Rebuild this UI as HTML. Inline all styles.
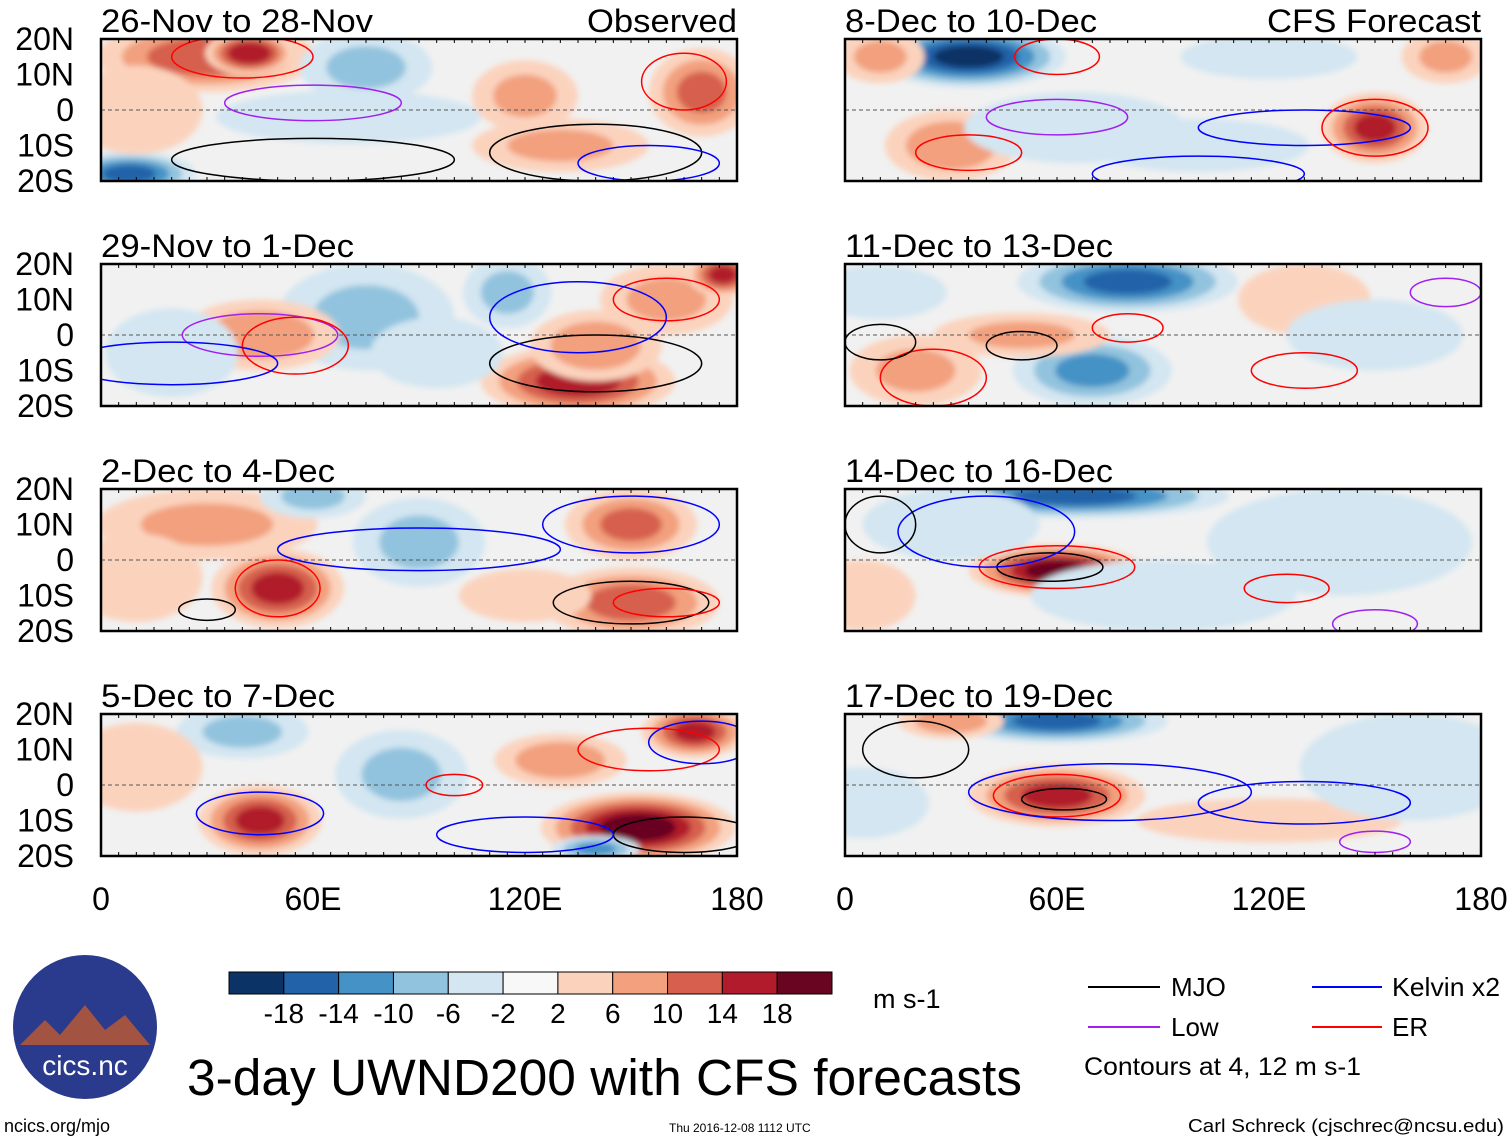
<!DOCTYPE html>
<html><head><meta charset="utf-8"><style>
body{margin:0;background:#fff;width:1510px;height:1142px;overflow:hidden;font-family:"Liberation Sans",sans-serif}
svg{display:block}
</style></head><body>
<svg id="fig" width="1510" height="1142" xmlns="http://www.w3.org/2000/svg">
<defs><filter id="bl" x="-20%" y="-20%" width="140%" height="140%"><feGaussianBlur stdDeviation="3"/></filter></defs>
<g id="panels"></g>
<g id="cbar"></g>
<text x="873" y="1008" font-size="27">m s-1</text>
<text x="187" y="1095" font-size="51" textLength="835" lengthAdjust="spacingAndGlyphs">3-day UWND200 with CFS forecasts</text>
<g font-size="26">
<line x1="1088" y1="987" x2="1160" y2="987" stroke="#000" stroke-width="2"/><text x="1171" y="996">MJO</text>
<line x1="1312" y1="987" x2="1382" y2="987" stroke="#00f" stroke-width="2"/><text x="1392" y="996" textLength="108" lengthAdjust="spacingAndGlyphs">Kelvin x2</text>
<line x1="1088" y1="1027" x2="1160" y2="1027" stroke="#a020f0" stroke-width="2"/><text x="1171" y="1036">Low</text>
<line x1="1312" y1="1027" x2="1382" y2="1027" stroke="#f00" stroke-width="2"/><text x="1392" y="1036">ER</text>
<text x="1084" y="1075" font-size="25" textLength="277" lengthAdjust="spacingAndGlyphs">Contours at 4, 12 m s-1</text>
</g>
<g>
<circle cx="85" cy="1027" r="72" fill="#2a3a8c"/>
<path d="M20 1045 L45 1020 L60 1035 L85 1005 L105 1030 L125 1015 L150 1045 Z" fill="#c05a30" opacity="0.8"/>
<text x="85" y="1075" font-size="28" fill="#fff" text-anchor="middle">cics.nc</text>
</g>
<text x="4" y="1132" font-size="18">ncics.org/mjo</text>
<text x="669" y="1132" font-size="12">Thu 2016-12-08 1112 UTC</text>
<text x="1504" y="1132" font-size="18" text-anchor="end" textLength="316" lengthAdjust="spacingAndGlyphs">Carl Schreck (cjschrec@ncsu.edu)</text>
</svg>
<script>
const levels=[-18,-14,-10,-6,-2,2,6,10,14,18];
const colors=["#0b3365","#2262a8","#4592c6","#92c3de","#d3e6f1","#f8f8f8","#fbd3bd","#f2a07e","#d6604d","#b11b2c","#690520"];
const titles=["26-Nov to 28-Nov","29-Nov to 1-Dec","2-Dec to 4-Dec","5-Dec to 7-Dec","8-Dec to 10-Dec","11-Dec to 13-Dec","14-Dec to 16-Dec","17-Dec to 19-Dec"];
const latTicks=["20N","10N","0","10S","20S"];
const lonTicks=["0","60E","120E","180"];
// blobs per panel: [lon, lat, value, radiusLonDeg, radiusLatDeg]
const blobs0=[[30,15,12,25,8],[42,16,17,10,5],[75,12,-6,15,8],[70,-2,-3,30,6],[120,4,6,12,8],[170,5,10,12,10],[130,-10,6,20,6],[8,-18,-14,15,5],[10,0,4,15,10]];
const blobs1=[[75,5,-6,20,12],[45,0,8,18,8],[135,-13,15,22,8],[140,-3,8,15,8],[160,10,6,15,8],[20,-5,-4,15,10],[176,17,14,8,5],[115,12,-6,10,8],[95,-5,-4,15,8]];
const blobs2=[[50,-8,14,15,9],[30,10,6,25,8],[90,5,-6,15,10],[150,10,10,15,8],[150,-12,11,20,8],[60,18,-6,12,5],[10,-5,5,15,10],[120,-10,4,15,6]];
const blobs3=[[45,-10,14,14,8],[40,15,-6,15,6],[85,3,-6,15,10],[168,15,14,12,6],[152,-12,19,22,8],[130,7,8,15,6],[140,-18,-10,10,3],[10,5,4,15,10]];
const blobs4=[[35,15,-18,22,7],[10,15,6,10,6],[30,-10,8,15,8],[150,-5,14,12,8],[65,-5,-4,25,8],[100,-10,-4,25,6],[170,15,6,10,6],[120,15,-4,20,5]];
const blobs5=[[80,15,-14,25,7],[70,-10,-10,18,8],[20,-10,6,15,8],[50,0,6,20,5],[130,10,4,15,8],[150,0,-4,20,8],[10,12,-4,15,6]];
const blobs6=[[60,-3,18,20,6],[65,18,-14,35,5],[90,-10,-4,30,8],[5,-10,4,12,8],[30,10,-4,20,8],[140,5,-2,30,12]];
const blobs7=[[60,-3,14,20,7],[60,18,-14,25,5],[30,18,8,12,4],[5,-5,-4,15,8],[120,-10,4,30,5],[160,5,-2,25,12]];
const allBlobs=[blobs0,blobs1,blobs2,blobs3,blobs4,blobs5,blobs6,blobs7];
// contours per panel: [lon, lat, rLon, rLat, type]  type: m=MJO k=Kelvin l=Low e=ER
const cont0=[[40,15,20,6,"e"],[165,8,12,8,"e"],[60,2,25,5,"l"],[140,-12,30,8,"m"],[60,-14,40,6,"m"],[155,-15,20,5,"k"]];
const cont1=[[45,0,22,6,"l"],[55,-3,15,8,"e"],[160,10,15,6,"e"],[140,-8,30,8,"m"],[135,5,25,10,"k"],[20,-8,30,6,"k"]];
const cont2=[[50,-8,12,8,"e"],[90,3,40,6,"k"],[150,10,25,8,"k"],[150,-12,22,6,"m"],[30,-14,8,3,"m"],[160,-12,15,4,"e"]];
const cont3=[[45,-8,18,6,"k"],[165,-14,20,5,"m"],[155,10,20,6,"e"],[100,0,8,3,"e"],[170,12,15,6,"k"],[120,-14,25,5,"k"]];
const cont4=[[60,-2,20,5,"l"],[130,-5,30,5,"k"],[35,-12,15,5,"e"],[60,15,12,5,"e"],[150,-5,15,8,"e"],[100,-18,30,5,"k"]];
const cont5=[[50,-3,10,4,"m"],[80,2,10,4,"e"],[25,-12,15,8,"e"],[130,-10,15,5,"e"],[170,12,10,4,"l"],[10,-2,10,5,"m"]];
const cont6=[[58,-2,15,4,"m"],[60,-2,22,6,"e"],[40,8,25,10,"k"],[125,-8,12,4,"e"],[10,10,10,8,"m"],[150,-18,12,4,"l"]];
const cont7=[[60,-3,18,6,"e"],[62,-4,12,3,"m"],[75,-2,40,8,"k"],[20,10,15,8,"m"],[150,-16,10,3,"l"],[130,-5,30,6,"k"]];
const allCont=[cont0,cont1,cont2,cont3,cont4,cont5,cont6,cont7];
const ctype={m:"#000",k:"#0000ff",l:"#a020f0",e:"#ff0000"};

const NS="http://www.w3.org/2000/svg";
function mk(t,a,p){const e=document.createElementNS(NS,t);for(const k in a)e.setAttribute(k,a[k]);if(p)p.appendChild(e);return e;}
function colorFor(v){let i=0;while(i<levels.length&&v>=levels[i])i++;return colors[i];}
const root=document.getElementById("panels");
const PW=636,PH=142,cols=[101,845],rows=[39,264,489,714];
const titleW=[272,253,234,234,252,268,268,268];
allBlobs.forEach((bl,pi)=>{
  const x0=cols[pi<4?0:1],y0=rows[pi%4];
  const xs=lon=>x0+lon/180*PW, ys=lat=>y0+(20-lat)/40*PH;
  const g=mk("g",{},root);
  
  
  mk("clipPath",{id:"cp"+pi},g).appendChild(mk("rect",{x:x0,y:y0,width:PW,height:PH}));
  const inner=mk("g",{"clip-path":"url(#cp"+pi+")"},g);
  mk("rect",{x:x0,y:y0,width:PW,height:PH,fill:"#f1f1f1"},inner);
  const fg=mk("g",{filter:"url(#bl)"},inner);
  bl.forEach(b=>{
    const [lon,lat,v,rx,ry]=b;const s=Math.sign(v),a=Math.abs(v);
    for(let L=2;L<=a;L+=4){
      const f=1.25*(1-(L-2)/(a+2)*0.8);
      const e=mk("ellipse",{cx:xs(lon),cy:ys(lat),rx:rx*f*PW/180,ry:ry*f*PH/40,fill:colorFor(s*(L+1))},fg);
      
      
    }
  });
  mk("line",{x1:x0,y1:ys(0),x2:x0+PW,y2:ys(0),stroke:"#555","stroke-dasharray":"4,3","stroke-width":1},inner);
  allCont[pi].forEach(c=>{
    const e=mk("ellipse",{cx:xs(c[0]),cy:ys(c[1]),rx:c[2]*PW/180,ry:c[3]*PH/40,fill:"none",stroke:ctype[c[4]],"stroke-width":1.5},inner);
    
    
  });
  mk("rect",{x:x0,y:y0,width:PW,height:PH,fill:"none",stroke:"#000","stroke-width":2.5},g);
  for(let k=0;k<=36;k++){const x=x0+k*PW/36;mk("line",{x1:x,y1:y0,x2:x,y2:y0+4,stroke:"#000"},g);mk("line",{x1:x,y1:y0+PH,x2:x,y2:y0+PH-4,stroke:"#000"},g);}
  const t=mk("text",{x:x0,y:y0-7,"font-size":32,textLength:titleW[pi],lengthAdjust:"spacingAndGlyphs"},g);t.textContent=titles[pi];
  
  
  if(pi===0||pi===4){const r=mk("text",{x:x0+PW,y:y0-7,"font-size":32,"text-anchor":"end",textLength:pi===0?150:214,lengthAdjust:"spacingAndGlyphs"},g);r.textContent=pi===0?"Observed":"CFS Forecast";
    
    }
  if(pi<4){latTicks.forEach((s,k)=>{const tt=mk("text",{x:74,y:y0+k*PH/4+11,"font-size":32,"text-anchor":"end"},g);tt.textContent=s;
    
    });}
  if(pi%4===3){lonTicks.forEach((s,k)=>{const tt=mk("text",{x:x0+k*PW/3,y:910,"font-size":32,"text-anchor":"middle"},g);tt.textContent=s;
    
    });}
});
const cb=document.getElementById("cbar");const cw=603/11;
colors.forEach((c,i)=>{const r=mk("rect",{x:229+i*cw,y:972,width:cw,height:22,fill:c,stroke:"#000","stroke-width":1},cb);
  
  });
levels.forEach((v,i)=>{const t=mk("text",{x:229+(i+1)*cw,y:1023,"font-size":28,"text-anchor":"middle"},cb);t.textContent=v;
  
  });
</script>
</body></html>
